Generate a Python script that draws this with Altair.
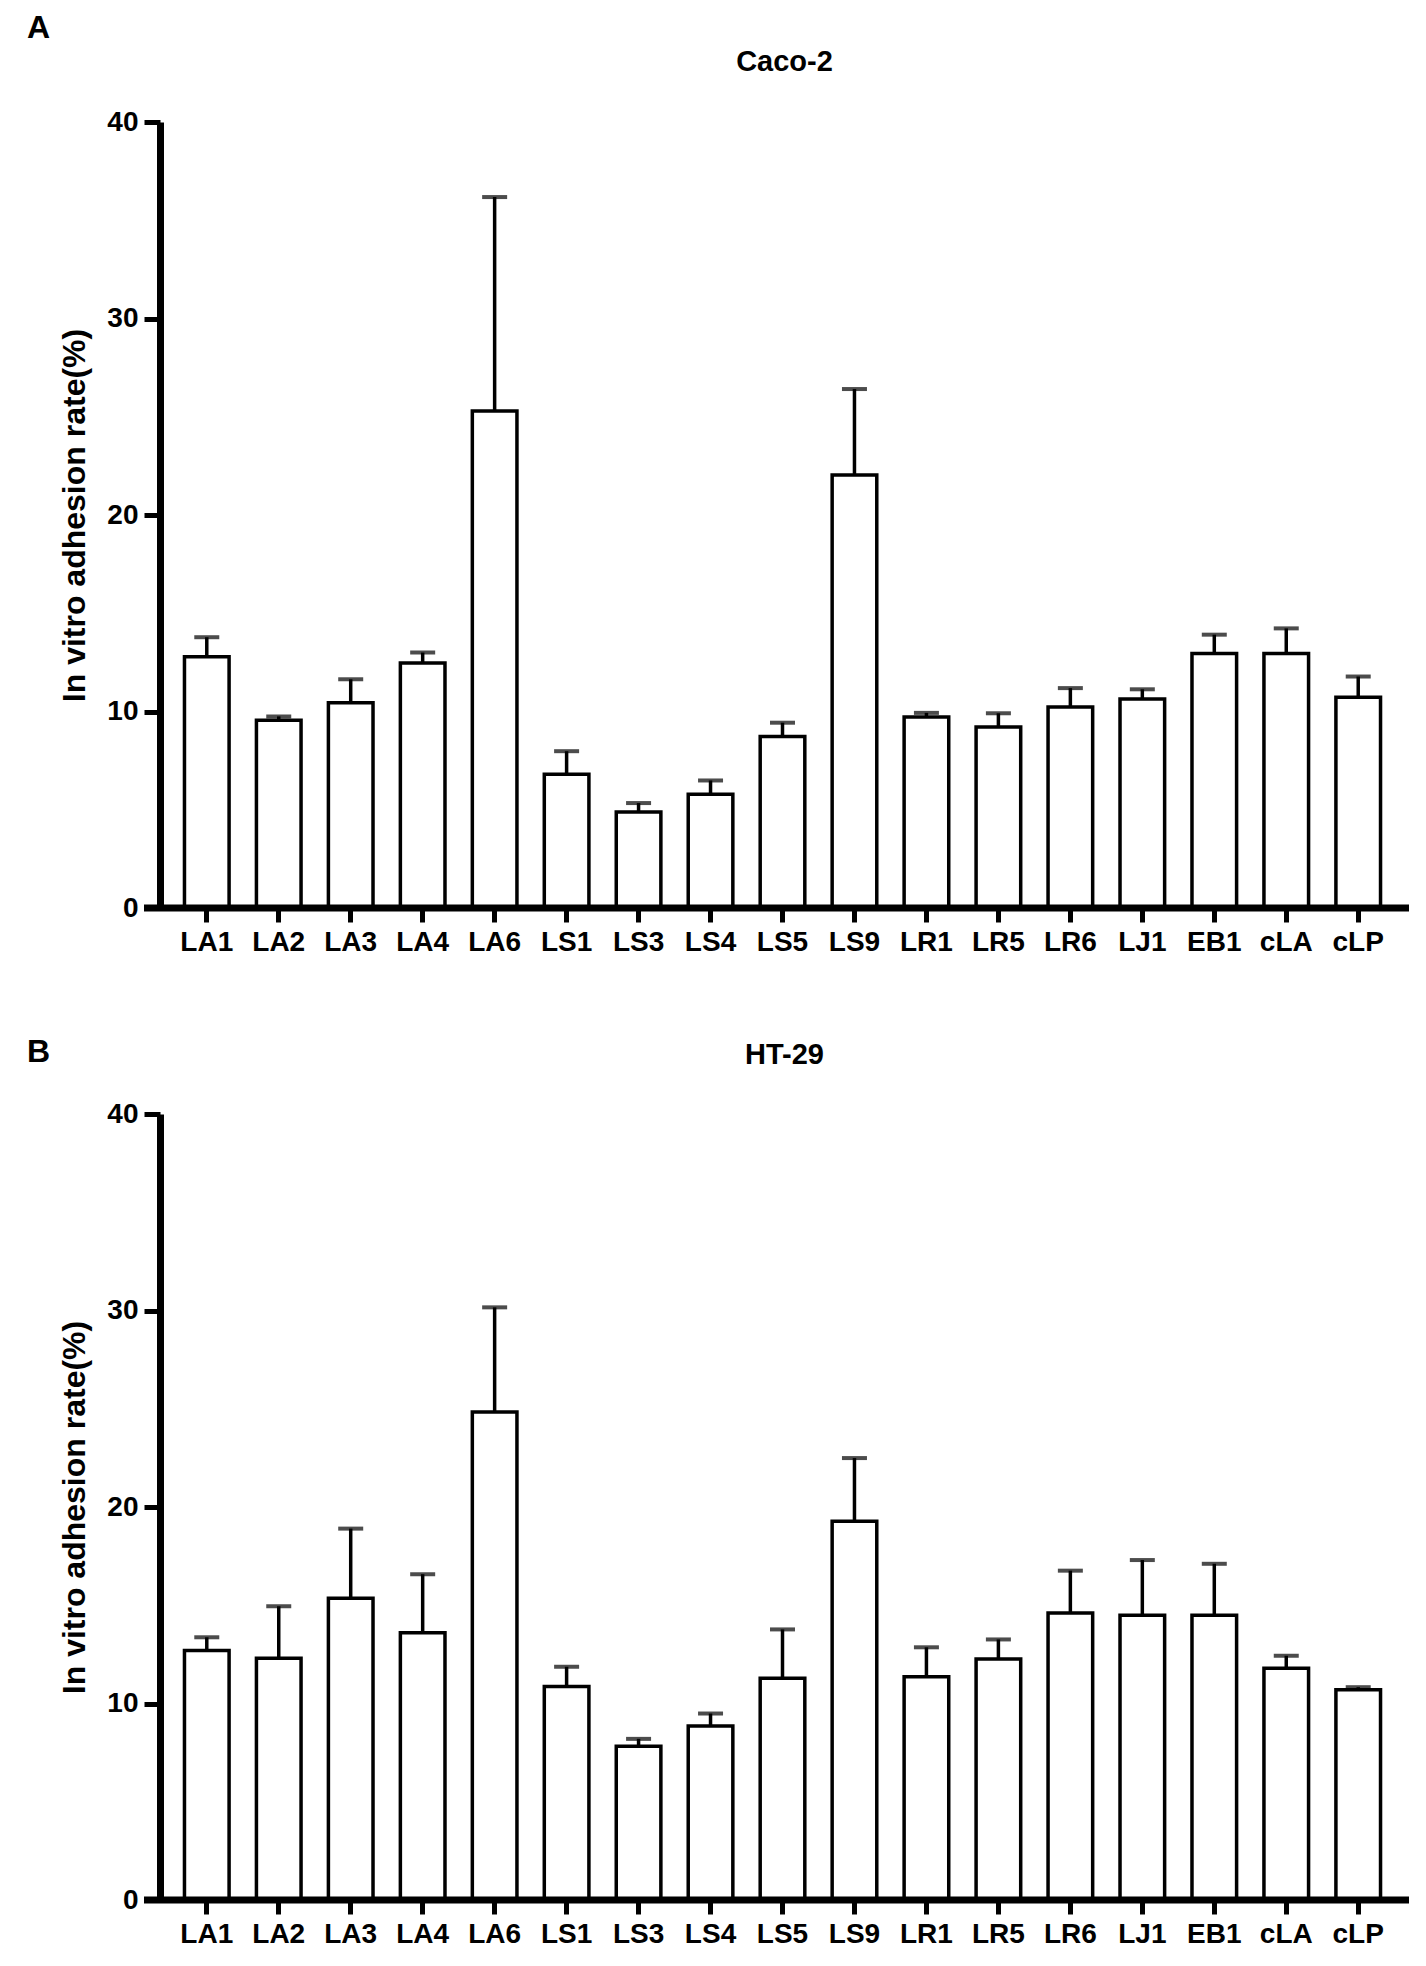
import altair as alt
import pandas as pd

cats = ["LA1", "LA2", "LA3", "LA4", "LA6", "LS1", "LS3", "LS4", "LS5", "LS9",
        "LR1", "LR5", "LR6", "LJ1", "EB1", "cLA", "cLP"]

caco_mean = [12.78, 9.56, 10.44, 12.47, 25.29, 6.81, 4.89, 5.79, 8.73, 22.03,
             9.72, 9.21, 10.23, 10.63, 12.95, 12.95, 10.73]
caco_err = [1.00, 0.19, 1.20, 0.53, 10.89, 1.17, 0.45, 0.70, 0.70, 4.38,
            0.21, 0.70, 0.96, 0.50, 0.96, 1.28, 1.05]

ht_mean = [12.70, 12.30, 15.35, 13.60, 24.84, 10.86, 7.83, 8.85, 11.28, 19.28,
           11.36, 12.27, 14.60, 14.49, 14.49, 11.79, 10.70]
ht_err = [0.67, 2.65, 3.55, 2.98, 5.32, 1.01, 0.37, 0.64, 2.49, 3.21,
          1.50, 0.99, 2.16, 2.81, 2.62, 0.64, 0.13]

panel_titles = ["Caco-2", "HT-29"]
panel_letters = ["A", "B"]
y_ticks = [0, 10, 20, 30, 40]
y_title = "In vitro adhesion rate(%)"

W = 1245
H = 786
FONT = "Liberation Sans"


def panel(mean, err, title, letter, letter_y, title_y):
    df = pd.DataFrame({
        "cat": cats,
        "mean": mean,
        "upper": [m + e for m, e in zip(mean, err)],
    })
    base = alt.Chart(df)
    x = alt.X(
        "cat:N", sort=cats, title=None,
        scale=alt.Scale(paddingInner=0.38, paddingOuter=0.34),
        axis=alt.Axis(labelAngle=0, domain=False, tickSize=14, tickWidth=5,
                      tickColor="black", labelFontSize=28, labelFont=FONT,
                      labelFontWeight="bold", labelPadding=6, labelColor="black",
                      grid=False),
    )
    yscale = alt.Scale(domain=[0, 40], nice=False)
    y = alt.Y(
        "mean:Q", scale=yscale, title=y_title,
        axis=alt.Axis(values=y_ticks, grid=False, domainWidth=7, domainColor="black",
                      tickWidth=5, tickSize=16, tickColor="black",
                      labelFontSize=28, labelFont=FONT, labelFontWeight="bold",
                      labelColor="black", labelPadding=6,
                      titleFont=FONT, titleFontSize=32, titleFontWeight="bold",
                      titleColor="black", titlePadding=15),
    )
    bars = base.mark_bar(fill="white", stroke="black", strokeWidth=3.5).encode(x=x, y=y)
    rules = base.mark_rule(strokeWidth=3.5, color="black").encode(
        x=x, y=alt.Y("mean:Q", scale=yscale, title=y_title), y2="upper:Q")
    caps = base.mark_tick(thickness=4, size=25, color="black").encode(
        x=x, y=alt.Y("upper:Q", scale=yscale, title=y_title))
    xline = alt.Chart(pd.DataFrame({"v": [0]})).mark_rule(
        strokeWidth=7, color="black").encode(
        x=alt.value(-16), x2=alt.value(W + 4),
        y=alt.Y("v:Q", scale=yscale, title=y_title))
    letter_mark = alt.Chart(pd.DataFrame({"t": [letter]})).mark_text(
        fontSize=32, fontWeight="bold", font=FONT, align="left",
        baseline="alphabetic", color="black").encode(
        text="t:N", x=alt.value(-133), y=alt.value(letter_y))
    title_mark = alt.Chart(pd.DataFrame({"t": [title]})).mark_text(
        fontSize=29, fontWeight="bold", font=FONT, align="center",
        baseline="alphabetic", color="black").encode(
        text="t:N", x=alt.value(W / 2 + 2), y=alt.value(title_y))
    return alt.layer(bars, rules, caps, xline, letter_mark, title_mark).properties(
        width=W, height=H,
    )


top = panel(caco_mean, caco_err, panel_titles[0], panel_letters[0], -84, -51)
bottom = panel(ht_mean, ht_err, panel_titles[1], panel_letters[1], -52, -50)

chart = alt.vconcat(top, bottom, spacing=80).properties(
    padding={"left": 19, "top": 4, "right": 5, "bottom": 5}
).configure_view(stroke=None)

chart.save("out.html", embed_options={"renderer": "svg", "actions": False})
